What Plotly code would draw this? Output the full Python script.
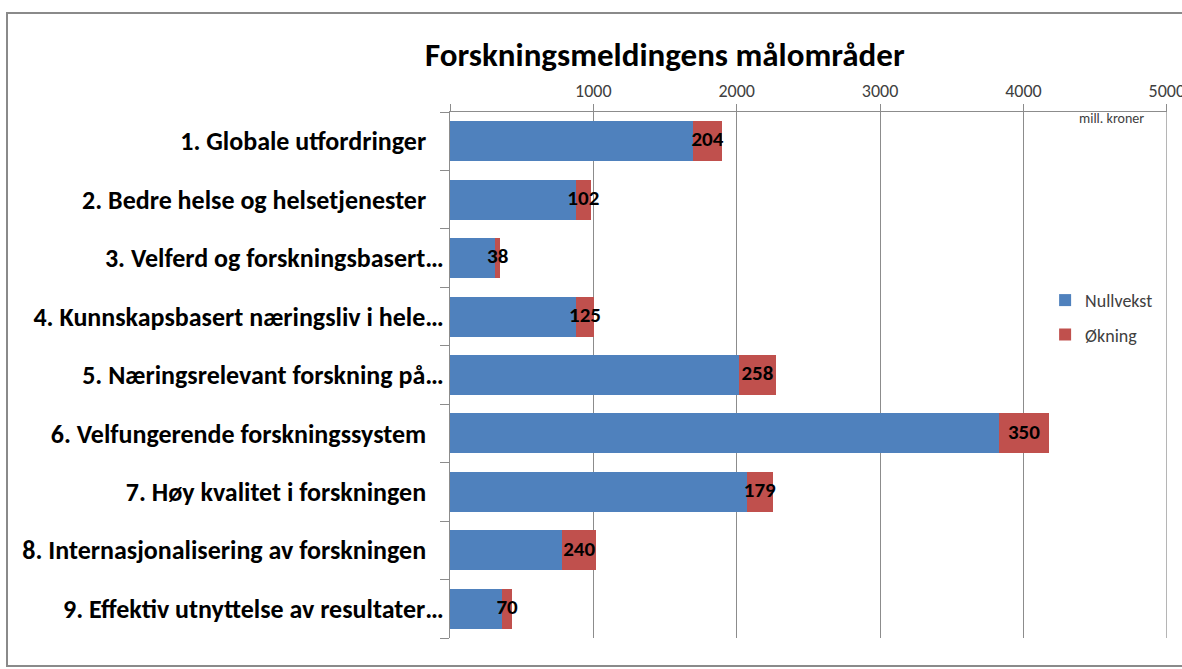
import plotly.graph_objects as go

categories = [
    "1. Globale utfordringer",
    "2. Bedre helse og helsetjenester",
    "3. Velferd og forskningsbasert…",
    "4. Kunnskapsbasert næringsliv i hele…",
    "5. Næringsrelevant forskning på…",
    "6. Velfungerende forskningssystem",
    "7. Høy kvalitet i forskningen",
    "8. Internasjonalisering av forskningen",
    "9. Effektiv utnyttelse av resultater…",
]
nullvekst = [1693, 879, 314, 879, 2015, 3828, 2071, 781, 363]
okning = [204, 102, 38, 125, 258, 350, 179, 240, 70]
tick_vals = [0, 1000, 2000, 3000, 4000, 5000]
tick_text = ["", "1000", "2000", "3000", "4000", "5000"]

# Excel right-aligns labels; untruncated ones carry a trailing space
PAD = "\u00a0\u00a0\u00a0"
cat_text = [c if c.endswith("…") else c + PAD for c in categories]

FONT = "Carlito, Lato, sans-serif"
GRID = "#8c8c8c"

fig = go.Figure()
fig.add_trace(go.Bar(
    y=categories, x=nullvekst, orientation="h", name="Nullvekst",
    legendgroup="a",
    marker=dict(color="#4F81BD", line=dict(width=0)),
))
fig.add_trace(go.Bar(
    y=categories, x=okning, orientation="h", name="Økning",
    legendgroup="b",
    marker=dict(color="#C0504D", line=dict(width=0)),
))
fig.add_trace(go.Scatter(
    y=categories, x=[a + b / 2 for a, b in zip(nullvekst, okning)],
    mode="text", text=[str(v) for v in okning], showlegend=False,
    textfont=dict(family=FONT, size=21, color="black", weight="bold"),
    hoverinfo="skip",
))

fig.update_layout(
    barmode="stack",
    bargap=0.315,
    width=1182, height=669,
    margin=dict(l=450, r=15, t=112, b=31, autoexpand=False),
    paper_bgcolor="white", plot_bgcolor="white",
    font=dict(family=FONT, color="#404040"),
    showlegend=True,
    legend=dict(
        x=0.83, y=0.677, xanchor="left", yanchor="top",
        font=dict(family=FONT, size=18, color="#404040"),
        traceorder="grouped", tracegroupgap=8,
        itemwidth=30,
        bgcolor="rgba(0,0,0,0)",
    ),
    xaxis=dict(
        side="top", range=[0, 5001], tickvals=tick_vals, ticktext=tick_text,
        showgrid=True, gridcolor=GRID, gridwidth=1,
        showline=True, linecolor=GRID, linewidth=1,
        ticks="outside", ticklen=7, tickcolor=GRID,
        tickfont=dict(family=FONT, size=18, color="#404040"),
        ticklabeloverflow="allow", automargin=False,
        zeroline=False, fixedrange=True,
    ),
    yaxis=dict(
        autorange="reversed", showline=True, linecolor=GRID, linewidth=1,
        tickmode="array", tickvals=categories, ticktext=cat_text,
        ticks="outside", tickson="boundaries", ticklen=9, tickcolor=GRID,
        tickfont=dict(family=FONT, size=26, color="black", weight="bold"),
        ticklabelstandoff=0, showgrid=False, fixedrange=True, automargin=False,
    ),
    annotations=[
        dict(text="<b>Forskningsmeldingens målområder</b>", xref="paper", yref="paper",
             x=0.30, y=(638 - 55) / 526, xanchor="center", yanchor="middle",
             showarrow=False, font=dict(family=FONT, size=33, color="black")),
        dict(text="mill. kroner", xref="paper", yref="paper",
             x=(1146 - 450) / 717, y=(638 - 119) / 526, xanchor="right", yanchor="middle",
             showarrow=False, font=dict(family=FONT, size=14, color="#404040")),
    ],
    shapes=[
        dict(type="rect", xref="paper", yref="paper",
             x0=(7 - 450) / 717, x1=1.2, y0=(638 - 666) / 526, y1=(638 - 13) / 526,
             line=dict(color="#8a8a8a", width=2), fillcolor="rgba(0,0,0,0)", layer="below"),
        # last gridline at the axis end, which Plotly omits
        dict(type="line", xref="x", yref="paper",
             x0=tick_vals[-1], x1=tick_vals[-1], y0=0, y1=1 + 7 / 526,
             line=dict(color=GRID, width=1), layer="below"),
    ],
)

fig.write_html(
    "out.html",
    config={"displayModeBar": False},
    post_script="document.body.style.margin='0';document.body.style.overflow='hidden';",
)
